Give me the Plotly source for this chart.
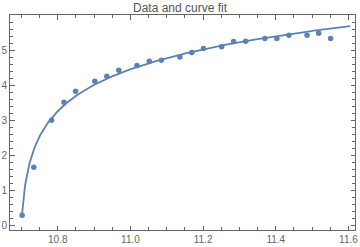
import numpy as np
import plotly.graph_objects as go

# Data
x_data = [10.702, 10.734, 10.783, 10.817, 10.849, 10.902, 10.935, 10.968, 11.018,
          11.052, 11.085, 11.136, 11.169, 11.201, 11.251, 11.284, 11.317, 11.370,
          11.403, 11.436, 11.486, 11.518, 11.551]
y_data = [0.28, 1.65, 2.99, 3.51, 3.82, 4.11, 4.25, 4.42, 4.56,
          4.68, 4.71, 4.80, 4.93, 5.04, 5.09, 5.24, 5.25, 5.33,
          5.33, 5.42, 5.42, 5.48, 5.33]
y_ticks = [0, 1, 2, 3, 4, 5]
x_ticks = [10.8, 11.0, 11.2, 11.4, 11.6]

# Fitted model y = a + b*log(x - c) (parameters of the fitted curve)
fit_a = 5.788
fit_b = 1.13
fit_c = 10.694
x_curve_range = [10.702, 11.605]

xs = np.linspace(x_curve_range[0], x_curve_range[1], 600)
ys = fit_a + fit_b * np.log(xs - fit_c)

col = "#5E81B5"
fig = go.Figure()
fig.add_trace(go.Scatter(x=xs, y=ys, mode="lines",
                         line=dict(color=col, width=1.8), hoverinfo="skip"))
fig.add_trace(go.Scatter(x=x_data, y=y_data, mode="markers",
                         marker=dict(color=col, size=5.5)))

font_fam = "Liberation Sans, Arial, sans-serif"
axis_common = dict(
    showline=True, linecolor="#666666", linewidth=1, mirror="allticks",
    ticks="inside", ticklen=4.5, tickcolor="#666666", tickwidth=1,
    showgrid=False, zeroline=False, automargin=False,
    tickfont=dict(family=font_fam, size=10, color="#666666"),
)
fig.update_xaxes(range=[10.6686, 11.618], tickvals=x_ticks,
                 ticktext=[f"{v:.1f}" for v in x_ticks],
                 minor=dict(dtick=0.05, tick0=10.8, ticks="inside", ticklen=2.7,
                            tickcolor="#666666", showgrid=False),
                 **axis_common)
fig.update_yaxes(range=[-0.143, 6.0], tickvals=y_ticks,
                 ticktext=[str(v) for v in y_ticks],
                 minor=dict(dtick=0.2, tick0=0, ticks="inside", ticklen=2.7,
                            tickcolor="#666666", showgrid=False),
                 **axis_common)
fig.update_layout(
    width=360, height=247,
    margin=dict(l=10, r=5, t=15, b=17),
    paper_bgcolor="white", plot_bgcolor="white",
    showlegend=False,
    title=dict(text="Data and curve fit", x=0.5, xanchor="center",
               y=1 - 7.5 / 247, yanchor="middle",
               font=dict(family=font_fam, size=12, color="#555555")),
)
fig.write_html("out.html")
